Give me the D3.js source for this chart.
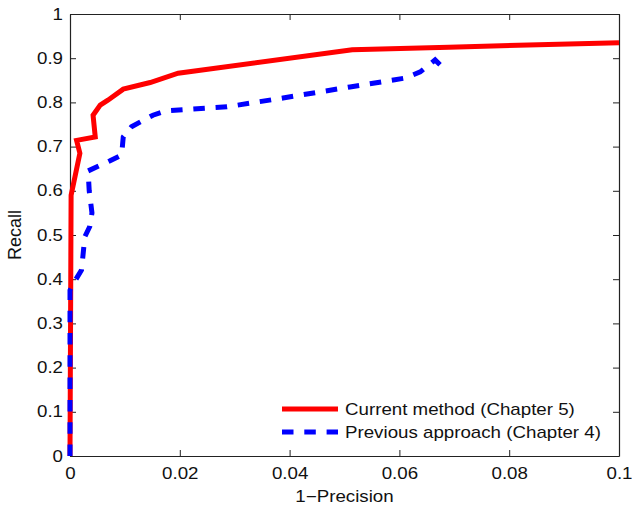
<!DOCTYPE html>
<html>
<head>
<meta charset="utf-8">
<script src="https://cdn.jsdelivr.net/npm/d3@7"></script>
<style>
  html, body { margin: 0; padding: 0; background: #fff; }
  svg { display: block; font-family: "Liberation Sans", Arial, Helvetica, sans-serif; }
</style>
</head>
<body>
<svg id="chart" width="632" height="506"></svg>
<script>
// Precision–recall curves: x = 1 − precision, y = recall
const currentX = [0, 0.0002, 0.0018, 0.0012, 0.0046, 0.0042, 0.0055, 0.0069, 0.0097, 0.0146, 0.0197, 0.0514, 0.0690, 0.1000];
const currentY = [0, 0.590, 0.685, 0.714, 0.722, 0.771, 0.794, 0.805, 0.830, 0.845, 0.866, 0.919, 0.925, 0.935];

const previousX = [0, 0, 0.0009, 0.0021, 0.0027, 0.0036, 0.0040, 0.0035, 0.0033, 0.0073, 0.0094, 0.0097, 0.0112, 0.0151, 0.0175, 0.0286, 0.0388, 0.0510, 0.0610, 0.0638, 0.0665, 0.0674];
const previousY = [0, 0.375, 0.396, 0.421, 0.496, 0.519, 0.550, 0.600, 0.645, 0.668, 0.681, 0.722, 0.745, 0.771, 0.781, 0.790, 0.810, 0.835, 0.855, 0.869, 0.896, 0.885];

const xTicks = [0, 0.02, 0.04, 0.06, 0.08, 0.1];
const yTicks = [0, 0.1, 0.2, 0.3, 0.4, 0.5, 0.6, 0.7, 0.8, 0.9, 1];

const seriesNames = ["Current method (Chapter 5)", "Previous approach (Chapter 4)"];
const seriesColors = ["#ff0000", "#0000ff"];

const margin = { left: 70, top: 14, right: 632 - 619, bottom: 506 - 456 };
const svg = d3.select("#chart");
const W = 632, H = 506;
const x = d3.scaleLinear().domain([0, 0.1]).range([margin.left, W - margin.right]);
const y = d3.scaleLinear().domain([0, 1]).range([H - margin.bottom, margin.top]);

const fmt = d => (d === 0 ? "0" : d3.format("~g")(d));
const tickLen = 6;
const wide = 1.17; // horizontal widening of the Helvetica-style labels
const dash = "11.5,10.8";
const lw = 5;

// widen text horizontally about its own anchor point
function widen(sel) {
  sel.each(function () {
    const t = d3.select(this);
    const ax = +t.attr("x") || 0;
    t.attr("transform", `translate(${ax * (1 - wide)},0) scale(${wide},1)`);
  });
}

// Axes on all four sides, ticks pointing inward
function styleAxis(g) {
  g.select(".domain").attr("stroke", "#222").attr("stroke-width", 1.2);
  g.selectAll(".tick line").attr("stroke", "#222").attr("stroke-width", 1);
  g.selectAll(".tick text").attr("fill", "#111").attr("font-size", 16)
    .attr("font-family", "'Liberation Sans', Arial, Helvetica, sans-serif")
    .call(widen);
}

svg.append("g").attr("transform", `translate(0,${y(0)})`)
  .call(d3.axisBottom(x).tickValues(xTicks).tickFormat(fmt).tickSizeInner(-tickLen).tickSizeOuter(0).tickPadding(12))
  .call(styleAxis);
svg.append("g").attr("transform", `translate(0,${y(1)})`)
  .call(d3.axisTop(x).tickValues(xTicks).tickFormat("").tickSizeInner(-tickLen).tickSizeOuter(0))
  .call(styleAxis);
svg.append("g").attr("transform", `translate(${x(0)},0)`)
  .call(d3.axisLeft(y).tickValues(yTicks).tickFormat(fmt).tickSizeInner(-tickLen).tickSizeOuter(0).tickPadding(7))
  .call(styleAxis);
svg.append("g").attr("transform", `translate(${x(0.1)},0)`)
  .call(d3.axisRight(y).tickValues(yTicks).tickFormat("").tickSizeInner(-tickLen).tickSizeOuter(0))
  .call(styleAxis);

// Axis titles
svg.append("text").attr("x", (x(0) + x(0.1)) / 2).attr("y", 502)
  .attr("text-anchor", "middle").attr("font-size", 16).attr("fill", "#111").text("1\u2212Precision")
  .call(widen);
svg.append("text").attr("transform", `translate(21,${(y(0) + y(1)) / 2}) rotate(-90)`)
  .attr("text-anchor", "middle").attr("font-size", 18).attr("fill", "#111").text("Recall");

// Curves (dashed one drawn over the solid one)
const line = d3.line().x(d => x(d[0])).y(d => y(d[1]));
const plot = svg.append("g");
plot.append("path")
  .datum(currentX.map((v, i) => [v, currentY[i]]))
  .attr("d", line).attr("fill", "none").attr("stroke", seriesColors[0])
  .attr("stroke-width", lw).attr("stroke-linejoin", "miter");
plot.append("path")
  .datum(previousX.map((v, i) => [v, previousY[i]]))
  .attr("d", line).attr("fill", "none").attr("stroke", seriesColors[1])
  .attr("stroke-width", lw).attr("stroke-dasharray", dash).attr("stroke-linejoin", "miter");

// Legend
const legend = svg.append("g");
[0, 1].forEach(i => {
  const ly = 409 + i * 23;
  legend.append("line").attr("x1", 282).attr("x2", 338).attr("y1", ly).attr("y2", ly)
    .attr("stroke", seriesColors[i]).attr("stroke-width", lw)
    .attr("stroke-dasharray", i === 1 ? dash : null);
  legend.append("text").attr("x", 345).attr("y", ly + 6.5).attr("font-size", 16)
    .attr("fill", "#111").text(seriesNames[i]).call(widen);
});
</script>
</body>
</html>
